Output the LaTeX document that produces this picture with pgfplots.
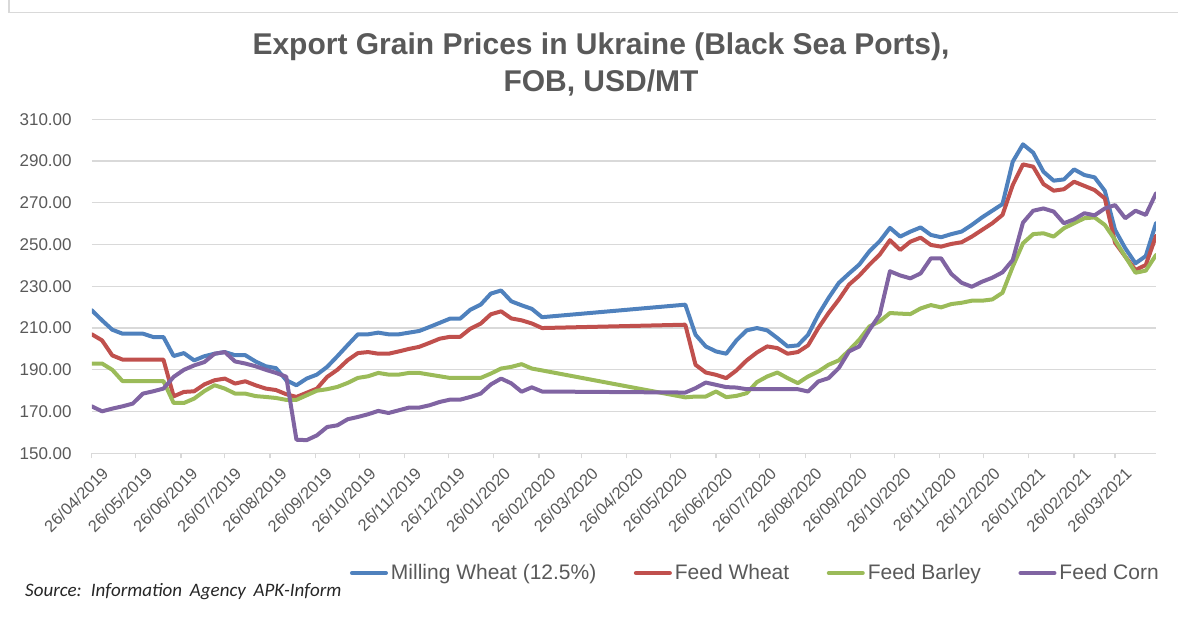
\documentclass[border=0pt]{standalone}
\usepackage{pgfplots}
\usepackage{pgfplotstable}
\pgfplotsset{compat=1.18}
\usepackage{fontspec}
\setmainfont{Liberation Sans}
\newfontfamily\srcfont[WordSpace=1.8]{Carlito}
\definecolor{cmw}{HTML}{4F81BD}
\definecolor{cfw}{HTML}{C0504D}
\definecolor{cfb}{HTML}{9BBB59}
\definecolor{cfc}{HTML}{8064A2}
\definecolor{txt}{HTML}{595959}
\definecolor{gridc}{HTML}{D9D9D9}

\pgfplotstableread{
d mw fw fb fc
0 218.5 207 193 172.5
7 213.7 204.1 193 170.1
14 209.2 196.9 190 171.4
21 207.3 194.9 184.6 172.5
28 207.3 194.9 184.6 173.8
35 207.3 194.9 184.6 178.6
42 205.7 194.9 184.6 179.7
49 205.7 194.9 184.6 181
56 196.6 177.3 174.1 186.6
63 198 179.4 174.1 190
70 194.5 179.7 176.2 192.1
77 196.5 183 179.8 193.7
84 197.7 185 182.6 197.7
91 198.5 185.8 181 198.5
98 197 183.4 178.6 194
105 197 184.5 178.6 193
112 194 182.6 177.4 191.7
119 191.7 181 177 190
126 190.8 180.3 176.5 188.5
133 185 178.3 175.6 186.7
140 182.6 177 175.6 156.5
147 185.8 179 177.8 156.3
154 187.7 181 180 158.6
161 191.4 186.6 180.7 162.6
168 196.5 190 181.8 163.4
175 201.8 194.6 183.7 166.3
182 207 198 186.1 167.4
189 207 198.5 186.9 168.7
196 207.8 197.7 188.5 170.3
203 207 197.7 187.7 169.3
210 207 198.8 187.7 170.6
217 207.8 200 188.5 171.9
224 208.6 201 188.5 171.9
231 210.5 202.9 187.7 173
238 212.5 204.9 186.9 174.6
245 214.5 205.8 186.1 175.7
252 214.5 205.8 186.1 175.7
259 218.8 209.7 186.1 177
266 221.2 212.1 186.1 178.6
273 226.5 216.6 188.2 183
280 228 218 190.6 185.8
287 222.8 214.6 191.4 183.5
294 220.9 213.7 192.7 179.5
301 219.2 212.2 190.6 181.6
308 215.2 210 189.7 179.6
406 221.2 211.6 176.8 179.1
413 206.8 192.4 177.2 181.2
420 201.2 188.7 177.2 183.9
427 198.8 187.6 179.6 182.8
434 197.7 186 176.9 181.7
441 204.1 189.7 177.5 181.5
448 208.9 194.5 178.8 180.7
455 210 198.3 184.1 180.7
462 208.9 201.2 186.8 180.7
469 205.2 200.4 188.7 180.7
476 201.2 197.7 186 180.7
483 201.7 198.5 183.6 180.7
490 206.8 201.7 186.8 179.6
497 216.4 210 189.2 184.4
504 224.4 217.2 192.4 186
511 231.6 223.6 194.5 190.8
518 236.1 230.8 199.3 198.8
525 240.4 235.1 204.4 201.2
532 246.8 240.4 210.8 209.2
539 251.6 245.2 213.2 216.4
546 258 252.1 217.2 237.2
553 253.8 247.4 216.9 235.2
560 256.2 251.4 216.7 233.8
567 258.2 253.3 219.4 236.2
574 254.6 249.8 221 243.4
581 253.5 249 219.9 243.4
588 255 250.3 221.5 235.9
595 256.2 251.1 222.1 231.7
602 259.4 253.8 223.1 229.8
609 263 257 223.1 232.2
616 266.2 260.2 223.7 234.1
623 269.4 264.2 226.9 236.7
630 289.7 278.5 239.4 242.6
637 298 288.4 250.6 260.5
644 294 287.3 255 266.2
651 284.9 279 255.4 267.3
658 280.6 275.8 253.8 265.8
665 281.2 276.5 257.8 260.2
672 286 280.1 260.2 262.1
679 283.3 278.1 262.6 265
686 282.2 276.1 263 264
693 275.7 272.1 259.4 267.3
700 257 250.9 252.2 268.9
707 248.2 244.2 244.2 262.6
714 241 237.8 236.5 266.2
721 244.5 240.2 237.5 264.2
728 260.2 254.1 245 274.5
}\data

\begin{document}
\begin{tikzpicture}[x=1pt,y=1pt]
\useasboundingbox (0,0) rectangle (1178,618);
\draw[gridc, line width=1.3pt] (9,618) -- (9,605.3) -- (1178,605.3);
\node[txt, font=\fontsize{30}{36}\selectfont\bfseries, anchor=base] at (601,563) {Export Grain Prices in Ukraine (Black Sea Ports),};
\node[txt, font=\fontsize{30}{36}\selectfont\bfseries, anchor=base] at (601,526.3) {FOB, USD/MT};
\node[anchor=base west, font=\srcfont\itshape\fontsize{19}{22}\selectfont, text=black!85, inner sep=0pt] at (25,21) {Source: Information Agency APK-Inform};
\begin{axis}[
  at={(91.8pt,164.7pt)}, anchor=south west, scale only axis,
  width=1064.2pt, height=334pt,
  xmin=0, xmax=728, ymin=150, ymax=310,
  ytick={150,170,...,310},
  ymajorgrids, grid style={gridc, line width=1.3pt},
  axis line style={draw=none},
  xtick={0,30,61,91,122,153,183,214,244,275,306,335,366,396,427,457,488,519,549,580,610,641,672,700},
  xticklabels={26/04/2019,26/05/2019,26/06/2019,26/07/2019,26/08/2019,26/09/2019,26/10/2019,26/11/2019,26/12/2019,26/01/2020,26/02/2020,26/03/2020,26/04/2020,26/05/2020,26/06/2020,26/07/2020,26/08/2020,26/09/2020,26/10/2020,26/11/2020,26/12/2020,26/01/2021,26/02/2021,26/03/2021},
  xtick pos=left, tick align=outside, major tick length=5pt,
  xtick style={gridc, line width=1.3pt},
  ytick style={draw=none},
  /pgf/number format/assume math mode=true,
  yticklabel={\pgfmathprintnumber[fixed,fixed zerofill,precision=2]{\tick}},
  ticklabel style={text=txt},
  yticklabel style={font=\fontsize{17}{20}\selectfont, anchor=east, inner sep=0pt, xshift=-15pt},
  xticklabel style={font=\fontsize{16.5}{19}\selectfont, rotate=45, anchor=north east, inner sep=0pt, xshift=1pt, yshift=-12pt},
  legend columns=4,
  legend style={at={(0.2426,-0.3584)}, anchor=west, draw=none, fill=none,
    inner sep=0pt, outer sep=0pt,
    font=\fontsize{21}{24}\selectfont, text=txt,
    nodes={inner sep=0pt},
    /tikz/every odd column/.append style={column sep=3pt},
    /tikz/every even column/.append style={column sep=37.5pt}},
  legend image code/.code={\draw[#1, line width=4pt, line cap=round] (2pt,0pt) -- (36pt,0pt);},
  every axis plot/.append style={line width=4pt, line join=round, line cap=round},
]
\addplot[cmw] table[x=d,y=mw] {\data};
\addlegendentry{Milling Wheat (12.5\%)}
\addplot[cfw] table[x=d,y=fw] {\data};
\addlegendentry{Feed Wheat}
\addplot[cfb] table[x=d,y=fb] {\data};
\addlegendentry{Feed Barley}
\addplot[cfc] table[x=d,y=fc] {\data};
\addlegendentry{Feed Corn}
\end{axis}
\end{tikzpicture}
\end{document}
